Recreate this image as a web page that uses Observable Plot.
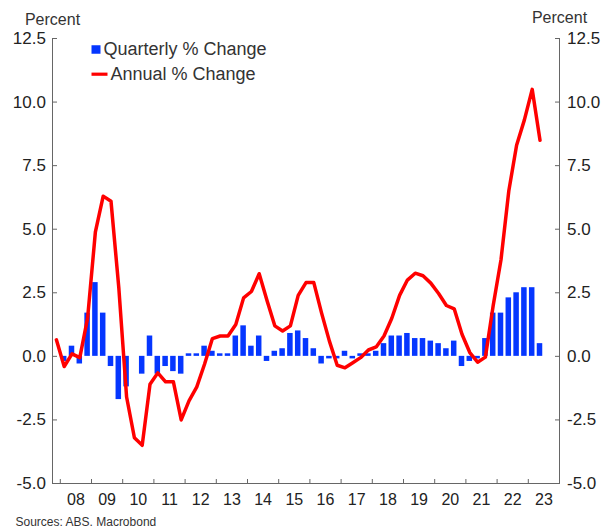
<!DOCTYPE html>
<html><head><meta charset="utf-8">
<script src="https://cdn.jsdelivr.net/npm/d3@7"></script>
<script src="https://cdn.jsdelivr.net/npm/@observablehq/plot@0.6"></script>
<style>body{margin:0;background:#fff}</style>
</head><body><div id="chart"></div>
<script>
// Bars: quarterly % change, first quarter = 2008 Q1
const barStartYear = 2008;
const quarterlyChange = [
  -0.2, 0.4, -0.3, 1.7,   2.9, 1.7, -0.4, -1.7,   -1.2, 0.0, -0.7, 0.8,
  -0.7, -0.4, -0.6, -0.7,  0.1, 0.1, 0.4, 0.2,    0.1, 0.1, 0.8, 1.2,
  0.4, 0.8, -0.2, 0.2,    0.3, 0.9, 1.0, 0.7,     0.3, -0.3, -0.1, -0.1,
  0.2, -0.1, 0.1, 0.1,    0.2, 0.5, 0.8, 0.8,     0.9, 0.7, 0.7, 0.6,
  0.5, 0.3, 0.6, -0.4,    -0.2, -0.1, 0.7, 1.7,   1.7, 2.3, 2.5, 2.7,
  2.7, 0.5
];
// Line: annual % change, first quarter = 2007 Q4
const lineStartYear = 2007.75;
const annualChange = [
  0.65,
  -0.4, 0.1, -0.05, 1.5,   4.9, 6.3, 6.1, 2.7,     -1.6, -3.2, -3.5, -1.1,
  -0.65, -1.0, -1.0, -2.5, -1.75, -1.2, -0.3, 0.7, 0.8, 0.8, 1.25, 2.3,
  2.55, 3.25, 2.2, 1.2,    1.0, 1.2, 2.4, 2.9,     2.9, 1.7, 0.6, -0.35,
  -0.45, -0.25, -0.05, 0.25, 0.37, 0.8, 1.5, 2.4,  3.0, 3.27, 3.17, 2.88,
  2.47, 2.0, 1.87, 0.87,   0.15, -0.23, -0.03, 2.0, 3.8, 6.5, 8.3, 9.3,
  10.5, 8.5
];
const yearTicks = [2008,2009,2010,2011,2012,2013,2014,2015,2016,2017,2018,2019,2020,2021,2022,2023];
const yearLabels = ["08","09","10","11","12","13","14","15","16","17","18","19","20","21","22","23"];
const yTicks = [-5, -2.5, 0, 2.5, 5, 7.5, 10, 12.5];
const seriesNames = ["Quarterly % Change", "Annual % Change"];
const axisTitle = "Percent";
const source = "Sources: ABS. Macrobond";

const BLUE = "#0536ff", RED = "#ff0000", AXIS = "#666", TXT = "#222";

const bars = quarterlyChange.map((v, i) => ({t: barStartYear + i / 4, v}));
const line = annualChange.map((v, i) => ({t: lineStartYear + i / 4 + 0.125, v}));
const labelPos = yearTicks.map((y, i) => ({y: y + 0.5, label: yearLabels[i]}));

const rectSym = (w, h) => ({draw(ctx) { ctx.rect(-w / 2, -h / 2, w, h); }});

const chart = Plot.plot({
  width: 612, height: 529,
  marginLeft: 52, marginRight: 53, marginTop: 38, marginBottom: 46,
  style: {fontFamily: "'Liberation Sans', Arial, sans-serif", background: "#fff", overflow: "visible"},
  x: {domain: [2007.75, 2024]},
  y: {domain: [-5, 12.5]},
  marks: [
    Plot.rectY(bars, {x1: "t", x2: d => d.t + 0.25, y1: 0, y2: "v", fill: BLUE, insetLeft: 1.15, insetRight: 1.15}),
    Plot.line(line, {x: "t", y: "v", stroke: RED, strokeWidth: 3.5, strokeLinejoin: "round"}),
    Plot.frame({anchor: "left", stroke: AXIS}),
    Plot.frame({anchor: "right", stroke: AXIS}),
    Plot.frame({anchor: "bottom", stroke: AXIS}),
    // y axes
    Plot.axisY({anchor: "left", ticks: yTicks, tickSize: 5, insetLeft: 5, tickPadding: 6.6, tickFormat: d => d.toFixed(1), fontSize: 17, color: TXT, stroke: AXIS, label: null}),
    Plot.axisY({anchor: "right", ticks: yTicks, tickSize: 5, insetRight: 5, tickPadding: 7.5, tickFormat: d => d.toFixed(1), fontSize: 17, color: TXT, stroke: AXIS, label: null}),
    // x axis ticks at year boundaries, labels mid-year
    Plot.axisX({anchor: "bottom", ticks: yearTicks, tickSize: 4, insetBottom: 4, tickFormat: () => "", stroke: AXIS, label: null}),
    Plot.axisX(labelPos, {anchor: "bottom", x: "y", text: "label", tickSize: 0, tickPadding: 10, fontSize: 16, fill: TXT, label: null}),
    // axis titles
    Plot.text([axisTitle], {frameAnchor: "top-left", lineAnchor: "middle", textAnchor: "middle", dy: -19, fontSize: 16, fill: "#333"}),
    Plot.text([axisTitle], {frameAnchor: "top-right", lineAnchor: "middle", textAnchor: "middle", dy: -21, fontSize: 16, fill: "#333"}),
    // legend
    Plot.dot([0], {frameAnchor: "top-left", dx: 43.5, dy: 11, symbol: rectSym(9, 8.5), r: 5, fill: BLUE, stroke: null}),
    Plot.text([seriesNames[0]], {frameAnchor: "top-left", lineAnchor: "middle", textAnchor: "start", dx: 51, dy: 11.2, fontSize: 18, fill: "#333"}),
    Plot.dot([0], {frameAnchor: "top-left", dx: 47, dy: 35.7, symbol: rectSym(16, 3.2), r: 5, fill: RED, stroke: null}),
    Plot.text([seriesNames[1]], {frameAnchor: "top-left", lineAnchor: "middle", textAnchor: "start", dx: 58, dy: 36.2, fontSize: 18, fill: "#333"}),
    // source
    Plot.text([source], {frameAnchor: "bottom-left", lineAnchor: "middle", textAnchor: "start", dx: -37, dy: 38.2, fontSize: 12, fill: "#333"})
  ]
});
document.getElementById("chart").appendChild(chart);
</script>
</body></html>
